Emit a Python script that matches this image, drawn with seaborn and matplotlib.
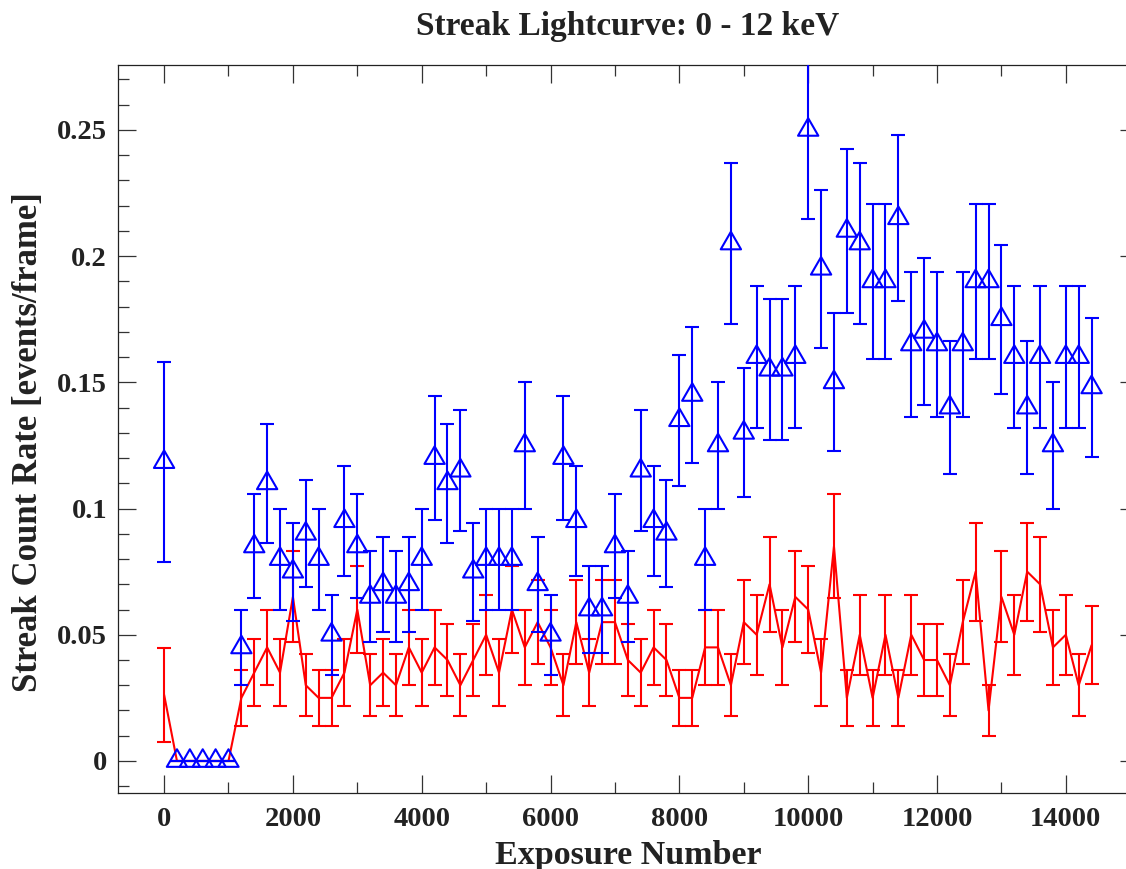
import numpy as np
import pandas as pd
import matplotlib
matplotlib.use("Agg")
import matplotlib.pyplot as plt
from matplotlib.path import Path
from matplotlib.ticker import MultipleLocator, FuncFormatter
import seaborn as sns

# Exposure bins (start of each 200-frame bin)
exposure = list(range(0, 14600, 200))

# Number of frames in each bin (first and last bins are partial)
frames = [76] + [200] * 71 + [196]

# Streak count rate for the two selections [events/frame]
blue_rate = [
    0.1184, 0.0, 0.0, 0.0, 0.0, 0.0, 0.045, 0.085, 0.11, 0.08,
    0.075, 0.09, 0.08, 0.05, 0.095, 0.085, 0.065, 0.07, 0.065, 0.07,
    0.08, 0.12, 0.11, 0.115, 0.075, 0.08, 0.08, 0.08, 0.125, 0.07,
    0.05, 0.12, 0.095, 0.06, 0.06, 0.085, 0.065, 0.115, 0.095, 0.09,
    0.135, 0.145, 0.08, 0.125, 0.205, 0.13, 0.16, 0.155, 0.155, 0.16,
    0.25, 0.195, 0.15, 0.21, 0.205, 0.19, 0.19, 0.215, 0.165, 0.17,
    0.165, 0.14, 0.165, 0.19, 0.19, 0.175, 0.16, 0.14, 0.16, 0.125,
    0.16, 0.16, 0.148,
]
red_rate = [
    0.0263, 0.0, 0.0, 0.0, 0.0, 0.0, 0.025, 0.035, 0.045, 0.035,
    0.065, 0.03, 0.025, 0.025, 0.035, 0.06, 0.03, 0.035, 0.03, 0.045,
    0.035, 0.045, 0.04, 0.03, 0.04, 0.05, 0.035, 0.06, 0.045, 0.055,
    0.045, 0.03, 0.055, 0.035, 0.055, 0.055, 0.04, 0.035, 0.045, 0.04,
    0.025, 0.025, 0.045, 0.045, 0.03, 0.055, 0.05, 0.07, 0.045, 0.065,
    0.06, 0.035, 0.085, 0.025, 0.05, 0.025, 0.05, 0.025, 0.05, 0.04,
    0.04, 0.03, 0.055, 0.075, 0.02, 0.065, 0.05, 0.075, 0.07, 0.045,
    0.05, 0.03, 0.0459,
]

df = pd.DataFrame({"exposure": exposure, "frames": frames,
                   "blue": blue_rate, "red": red_rate})
# Poisson uncertainty on the rate: sqrt(counts) / frames
df["blue_err"] = np.sqrt(df["blue"] * df["frames"]) / df["frames"]
df["red_err"] = np.sqrt(df["red"] * df["frames"]) / df["frames"]

sns.set_style("ticks")
plt.rcParams["font.family"] = ["Liberation Serif", "DejaVu Serif"]
plt.rcParams["font.weight"] = "bold"
plt.rcParams["axes.labelweight"] = "bold"
plt.rcParams["axes.titleweight"] = "bold"

fig = plt.figure(figsize=(11.26, 8.69), dpi=100)
ax = fig.add_axes([0.10453, 0.08711, 0.9061, 0.8381])

lw = 1.5
cap = 5

# Red selection: connected line with error bars
ax.errorbar(df["exposure"], df["red"], yerr=df["red_err"], fmt="none",
            ecolor="#ff0000", elinewidth=lw, capsize=cap, capthick=lw, zorder=2)
sns.lineplot(data=df, x="exposure", y="red", color="#ff0000", linewidth=lw,
             errorbar=None, ax=ax, zorder=3)

# Blue selection: open triangles with error bars
ax.errorbar(df["exposure"], df["blue"], yerr=df["blue_err"], fmt="none",
            ecolor="#0000ff", elinewidth=lw, capsize=cap, capthick=lw, zorder=4)
triangle = Path([(0.0, 1.0), (-0.866, -0.5), (0.866, -0.5), (0.0, 1.0)],
                [Path.MOVETO, Path.LINETO, Path.LINETO, Path.CLOSEPOLY])
sns.scatterplot(data=df, x="exposure", y="blue", marker=triangle, s=285,
                facecolor="none", edgecolor="#0000ff", linewidth=lw,
                ax=ax, zorder=5)

ax.set_xlim(-720, 15120)
ax.set_ylim(-0.0128, 0.2757)

ax.xaxis.set_major_locator(MultipleLocator(2000))
ax.xaxis.set_minor_locator(MultipleLocator(1000))
ax.yaxis.set_major_locator(MultipleLocator(0.05))
ax.yaxis.set_minor_locator(MultipleLocator(0.01))
ax.yaxis.set_major_formatter(FuncFormatter(lambda v, p: f"{v:g}"))
ax.xaxis.set_major_formatter(FuncFormatter(lambda v, p: f"{v:.0f}"))

for s in ax.spines.values():
    s.set_visible(True)
    s.set_linewidth(0.9)
    s.set_color("#222222")
ax.tick_params(which="both", direction="in", top=True, right=True,
               color="#333333", width=0.9, labelsize=20.5, labelcolor="#222222")
ax.tick_params(which="major", length=13)
ax.tick_params(which="minor", length=8)
ax.tick_params(axis="x", which="major", pad=10)
ax.tick_params(axis="y", which="major", pad=7.7)

ax.set_title("Streak Lightcurve: 0 - 12 keV", fontsize=24, pad=21.6,
             color="#222222")
ax.set_xlabel("Exposure Number", fontsize=24.5, color="#222222")
ax.set_ylabel("Streak Count Rate [events/frame]", fontsize=25, color="#222222")
ax.xaxis.set_label_coords(0.5, -0.064)
ax.yaxis.set_label_coords(-0.0713, 0.482)

fig.savefig("out.png", dpi=100)
